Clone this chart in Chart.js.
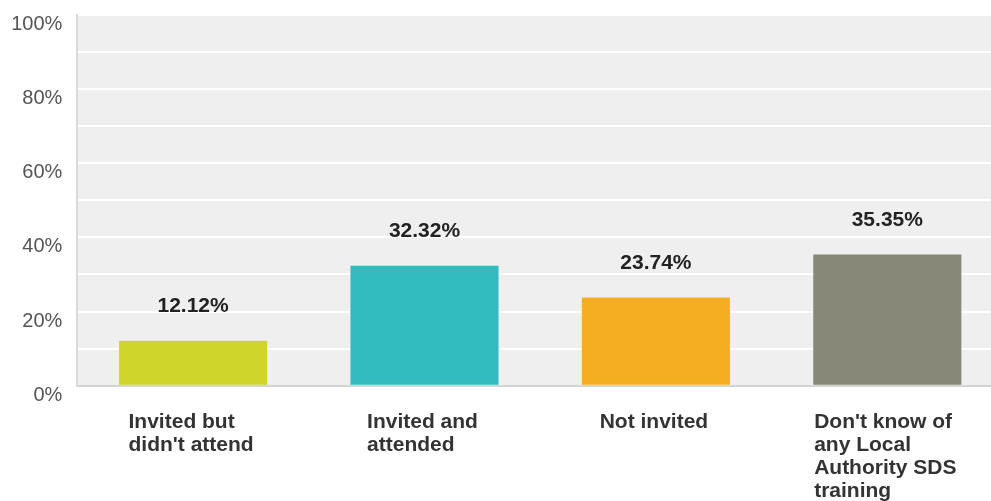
<!DOCTYPE html>
<html>
<head>
<meta charset="utf-8">
<script src="https://cdn.jsdelivr.net/npm/chart.js@4"></script>
<style>
  html, body { margin: 0; padding: 0; background: #ffffff; overflow: hidden; }
  #wrap { width: 1003px; height: 501px; }
</style>
</head>
<body>
<div id="wrap"><canvas id="chart" width="1003" height="501"></canvas></div>
<script>
// Survey answers: attendance at Local Authority SDS training
const categories = [
  "Invited but didn't attend",
  "Invited and attended",
  "Not invited",
  "Don't know of any Local Authority SDS training"
];
// How each category label wraps under its bar
const categoryLines = [
  ["Invited but", "didn't attend"],
  ["Invited and", "attended"],
  ["Not invited"],
  ["Don't know of", "any Local", "Authority SDS", "training"]
];
const shares = [12.12, 32.32, 23.74, 35.35];
const barColors = ["#cfd52a", "#33bcbf", "#f5ae21", "#878877"];

const FONT = "'Liberation Sans', Arial, sans-serif";

// Light grey plot background behind the grid
const plotBackground = {
  id: 'plotBackground',
  beforeDraw(chart) {
    const { ctx, chartArea: a } = chart;
    ctx.save();
    ctx.fillStyle = '#efefef';
    ctx.fillRect(a.left, a.top, a.right - a.left, a.bottom - a.top);
    ctx.restore();
  }
};

// Percentage written above each bar
const valueLabels = {
  id: 'valueLabels',
  afterDatasetsDraw(chart) {
    const { ctx } = chart;
    const meta = chart.getDatasetMeta(0);
    ctx.save();
    ctx.font = 'bold 21px ' + FONT;
    ctx.fillStyle = '#222222';
    ctx.textAlign = 'center';
    ctx.textBaseline = 'alphabetic';
    meta.data.forEach((bar, i) => {
      ctx.fillText(shares[i].toFixed(2) + '%', bar.x, bar.y - 28.5);
    });
    ctx.restore();
  }
};

// Category names: a centred block under each bar, lines aligned left
const categoryLabels = {
  id: 'categoryLabels',
  afterDraw(chart) {
    const { ctx } = chart;
    const x = chart.scales.x;
    ctx.save();
    ctx.font = 'bold 21px ' + FONT;
    ctx.fillStyle = '#333333';
    ctx.textAlign = 'left';
    ctx.textBaseline = 'alphabetic';
    categoryLines.forEach((lines, i) => {
      const cx = x.getPixelForValue(i);
      const w = Math.max(...lines.map(l => ctx.measureText(l).width));
      const left = cx - w / 2 - 2;
      lines.forEach((line, j) => {
        ctx.fillText(line, left, x.top + 42 + j * 23);
      });
    });
    ctx.restore();
  }
};

new Chart(document.getElementById('chart'), {
  type: 'bar',
  data: {
    labels: categories,
    datasets: [{
      data: shares,
      backgroundColor: barColors,
      borderWidth: 0,
      barPercentage: 0.64,
      categoryPercentage: 1.0
    }]
  },
  options: {
    responsive: false,
    animation: false,
    layout: { padding: { top: 14.7, left: 0, right: 0, bottom: 0 } },
    plugins: {
      legend: { display: false },
      tooltip: { enabled: false }
    },
    scales: {
      x: {
        grid: { display: false },
        border: { display: true, color: '#d4d4d4', width: 2 },
        ticks: { display: false },
        afterFit(scale) { scale.height = 115.3; }
      },
      y: {
        min: 0,
        max: 100,
        afterFit(scale) {
          scale.width = 77.4;
          scale.paddingTop = 0;
          scale.paddingBottom = 0;
        },
        grid: { color: '#ffffff', lineWidth: 2, drawTicks: false },
        border: { display: true, color: '#dadada', width: 2 },
        ticks: {
          stepSize: 10,
          padding: 15,
          labelOffset: 9.5,
          color: '#555555',
          font: { family: FONT, size: 20 },
          callback: v => (v % 20 === 0 ? v + '%' : '')
        }
      }
    }
  },
  plugins: [plotBackground, valueLabels, categoryLabels]
});
</script>
</body>
</html>
